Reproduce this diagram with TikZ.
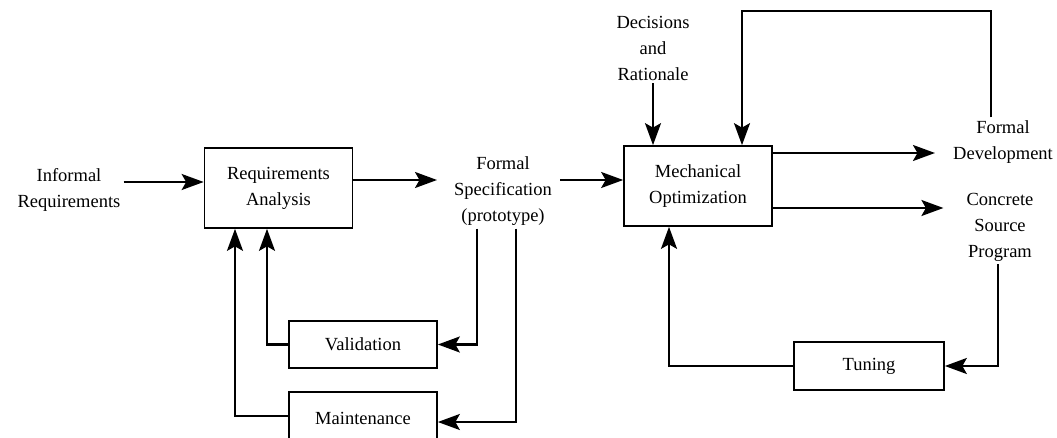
\documentclass[tikz,border=0pt]{standalone}
\usepackage{fontspec}
\setmainfont{Liberation Serif}
\usetikzlibrary{arrows.meta}
\begin{document}
\begin{tikzpicture}[x=1pt,y=-1pt,
  every node/.style={font=\fontsize{18.5}{26}\selectfont, align=center, inner sep=3pt},
  procbox/.style={draw, line width=1.7pt, minimum width=148pt},
  label/.style={},
  conn/.style={line width=2.1pt},
  arr/.style={conn, -{Stealth[length=22pt,width=16pt,inset=4.5pt]}}]
  \useasboundingbox (0,0) rectangle (1057,438);
  \clip (0,0) rectangle (1057,438);

  % process boxes
  \node[procbox, minimum height=80pt] (ra)  at (278.5,188) {Requirements\\Analysis};
  \node[procbox, minimum height=80pt] (mo)  at (698,186)   {Mechanical\\Optimization};
  \node[procbox, minimum height=47pt] (val) at (363,344.5) {Validation};
  \node[procbox, minimum height=52pt] (mnt) at (363,418)   {Maintenance};
  \node[procbox, minimum height=48pt, minimum width=150pt] (tun) at (869,366) {Tuning};

  % free-standing labels
  \node[label] (inf) at (69,190)   {Informal\\Requirements};
  \node[label] (fs)  at (503,191)  {Formal\\Specification\\(prototype)};
  \node[label] (dec) at (653,48)   {Decisions\\and\\Rationale};
  \node[label] (fd)  at (1003,142) {Formal\\Development};
  \node[label] (csp) at (1000,227) {Concrete\\Source\\Program};

  % main flow
  \draw[arr] (inf.east |- 0,182) -- (ra.west |- 0,182);
  \draw[arr, shorten >=14pt] (ra.east |- 0,180) -- (fs.west |- 0,180);
  \draw[arr, shorten <=5pt] (fs.east |- 0,180) -- (mo.west |- 0,180);
  \draw[arr] (dec.south) -- (dec.south |- mo.north);
  \draw[arr, shorten >=15pt] (mo.east |- 0,153) -- (fd.west |- 0,153);
  \draw[arr, shorten >=20pt] (mo.east |- 0,208) -- (csp.west |- 0,208);

  % feedback from the formal development
  \draw[arr] ([xshift=-12pt]fd.north) -- ([xshift=-12pt]fd.north |- 0,11)
             -| ([xshift=44pt]mo.north);

  % tuning loop
  \draw[arr] ([xshift=-2pt]csp.south) |- (tun.east);
  \draw[arr] (tun.west) -| ([xshift=-29pt]mo.south);

  % validation and maintenance loops
  \draw[arr] ([xshift=-26pt]fs.south) |- (val.east);
  \draw[arr] ([xshift=13pt]fs.south) |- ([yshift=-4pt]mnt.east);
  \draw[arr] (val.west) -| ([xshift=-11.5pt]ra.south);
  \draw[arr] ([yshift=2pt]mnt.west) -| ([xshift=-43.5pt]ra.south);
\end{tikzpicture}
\end{document}
